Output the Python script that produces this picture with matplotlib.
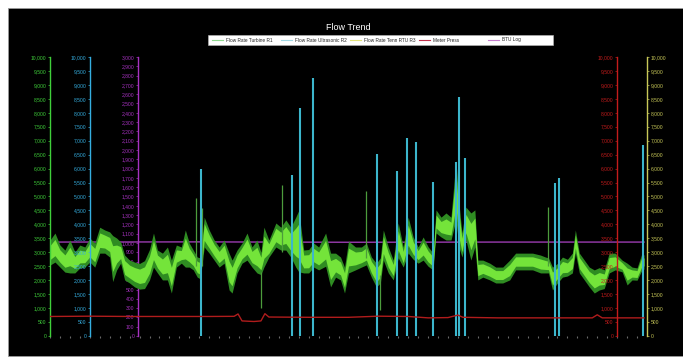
import numpy as np
import matplotlib
matplotlib.use("Agg")
import matplotlib.pyplot as plt
from matplotlib.patches import Rectangle
from matplotlib.lines import Line2D
from matplotlib.ticker import FuncFormatter

# ---------------- data ----------------
series_names = ["Flow Rate Turbine R1", "Flow Rate Ultrasonic R2",
                "Flow Rate Tenn RTU R3", "Meter Press", "BTU Log"]

# Turbine R1 flow: sample time (min) with upper / lower envelope of the noisy trace
turbine_t = [0, 5, 10, 15, 20, 25, 30, 35, 40, 45, 50, 55, 60, 63, 67, 71, 75, 80, 85, 90,
             95, 100, 104, 108, 113, 118, 122, 127, 132, 136, 140, 144, 148, 151, 155, 160,
             165, 170, 175, 180, 183, 188, 193, 198, 203, 208, 212, 215, 220, 227, 232, 237,
             242, 247, 250, 255, 260, 265, 270, 277, 282, 287, 292, 296, 300, 307, 313, 318,
             323, 328, 332, 335, 340, 345, 350, 355, 360, 365, 370, 375, 380, 385, 388, 393,
             398, 403, 408, 411, 414, 418, 423, 427, 430, 435, 442, 448, 455, 462, 468, 477,
             485, 493, 498, 501, 505, 510, 515, 520, 525, 528, 532, 537, 542, 547, 552, 557,
             562, 568, 575, 580, 585, 590, 595, 597]
turbine_hi = [3440, 3690, 3260, 3080, 3440, 3010, 3260, 3190, 3510, 3330, 3900, 3800, 3730,
              3600, 3510, 3370, 2900, 2720, 2650, 2600, 2700, 3100, 3690, 3080, 2970, 3190,
              2720, 3260, 3190, 3800, 3330, 3080, 2830, 2800, 4260, 3800, 3440, 3190, 3440,
              2970, 2720, 3080, 3330, 3690, 3190, 3440, 3000, 3900, 3440, 4050, 3900, 4160,
              3900, 4260, 4500, 3080, 3100, 3330, 3190, 3690, 2970, 2970, 2830, 2470, 3400,
              3190, 3190, 3330, 2830, 2610, 2800, 3800, 3190, 2720, 4050, 3190, 4260, 3550,
              3190, 3550, 3200, 2970, 4520, 4260, 4410, 4260, 6300, 4770, 3690, 4620, 4410,
              4520, 2720, 2720, 2610, 2470, 2470, 2720, 2970, 2970, 2970, 2900, 2830, 2800,
              2470, 2600, 2830, 2750, 2970, 3800, 2970, 2720, 2470, 2370, 2450, 2370, 2970,
              2970, 2720, 2610, 2470, 2440, 2970, 2900]
turbine_lo = [2540, 2650, 2470, 2290, 2260, 2260, 2440, 2470, 2650, 2470, 2970, 2970, 2830,
              1950, 2370, 2610, 2010, 1900, 1760, 1680, 1700, 2010, 2470, 2260, 2010, 2010,
              1540, 2470, 2610, 2470, 2470, 2370, 2110, 2050, 3190, 2970, 2720, 2470, 2610,
              1650, 1540, 2260, 2610, 2720, 2470, 2260, 2200, 2470, 2830, 3190, 3080, 3080,
              2830, 2470, 2300, 2260, 2260, 2470, 2370, 2500, 1760, 2110, 2010, 1540, 2260,
              2370, 2470, 2550, 2110, 1760, 1900, 2720, 2260, 2010, 2800, 2470, 2970, 2750,
              2610, 2720, 2500, 2370, 3690, 3550, 3440, 3440, 4160, 3190, 2830, 3440, 2720,
              3190, 2010, 2110, 2010, 1900, 1900, 2010, 2370, 2370, 2370, 2260, 2260, 2260,
              1650, 1900, 2110, 2150, 2260, 2970, 2260, 2010, 1760, 1540, 1650, 1700, 2260,
              2370, 2300, 1830, 2010, 2000, 2370, 2400]
# short transients of the turbine meter (start level -> extreme value)
turbine_spike_t = [147, 153, 233, 318, 501, 212, 332]
turbine_spike_from = [2500, 2500, 3000, 2800, 2500, 2300, 2200]
turbine_spike_v = [4950, 4600, 5400, 5200, 4620, 1000, 930]

# Ultrasonic R2 flow: isolated readings (spikes from zero)
ultra_t = [152, 243, 251, 264, 329, 349, 359, 368, 385, 408, 411, 417, 508, 512, 596]
ultra_v = [5985, 5770, 8170, 9250, 6520, 5910, 7100, 6960, 5520, 6240, 8560, 6380, 5480, 5660, 6850]

# Meter pressure
press_t = [0, 40, 80, 120, 160, 185, 189, 193, 205, 212, 216, 220, 260, 300, 330, 360, 380,
           400, 410, 415, 450, 500, 545, 550, 555, 597]
press_v = [700, 710, 700, 700, 700, 705, 790, 540, 520, 540, 800, 680, 670, 670, 710, 700,
           650, 660, 750, 670, 650, 650, 650, 760, 650, 650]

# BTU log (own scale 0 - 3,000)
btu_t = [0, 150, 300, 450, 597]
btu_v = [1010, 1012, 1008, 1010, 1010]

flow_ticks = np.arange(0, 10001, 500)
btu_ticks = np.arange(0, 3001, 100)

# ---------------- colours ----------------
C_GREEN_AX = "#3fcf3a"
C_CYAN_AX = "#35aee0"
C_MAG_AX = "#a632c0"
C_RED_AX = "#c41c1c"
C_YEL_AX = "#c8c858"
C_BAND_CORE = "#74e43a"
C_BAND_FRINGE = "#2f8c22"
C_SPIKE_G = "#4c9c3c"
C_CYAN = "#3cb6cc"
C_PRESS = "#b01c1c"
C_BTU = "#9a3cb0"

W, H = 683, 364
fig = plt.figure(figsize=(W / 100, H / 100), dpi=100, facecolor="white")
fig.patches.append(Rectangle((8 / W, 1 - 356 / H), 1 - 8 / W, (356 - 8) / H,
                             transform=fig.transFigure, facecolor="black",
                             edgecolor="#9a9a9a", lw=0.6, zorder=-10))

rect = [50 / W, 28 / H, 597 / W, 279 / H]
ax = fig.add_axes(rect)
ax.patch.set_visible(False)

fmt = FuncFormatter(lambda v, _: f"{int(round(v)):,}")


def style_axis(a, color, side, pos, lim, ticks):
    a.set_ylim(*lim)
    a.set_yticks(ticks)
    a.yaxis.set_major_formatter(fmt)
    for s in a.spines.values():
        s.set_visible(False)
    sp = a.spines[side]
    sp.set_visible(True)
    sp.set_color(color)
    sp.set_linewidth(1.0)
    sp.set_position(("axes", pos))
    a.yaxis.set_ticks_position(side)
    a.tick_params(axis="y", colors=color, labelsize=3.6, length=1.5, width=0.5, pad=1.0)
    for lab in a.get_yticklabels():
        lab.set_fontfamily("Liberation Sans")


# main axis: turbine flow
style_axis(ax, C_GREEN_AX, "left", 0.0, (0, 10000), flow_ticks)
ax.set_xlim(0, 600)
ax.set_xticks(np.arange(0, 600, 10))
ax.tick_params(axis="x", colors="#6a6a6a", length=1.6, width=0.8, labelbottom=False)

ax_btu = ax.twinx()
style_axis(ax_btu, C_MAG_AX, "left", 0.147, (0, 3000), btu_ticks)
ax_btu.set_zorder(ax.get_zorder() - 1)

ax_ultra = ax.twinx()
style_axis(ax_ultra, C_CYAN_AX, "left", 0.067, (0, 10000), flow_ticks)

ax_press = ax.twinx()
style_axis(ax_press, C_RED_AX, "left", 0.950, (0, 10000), flow_ticks)

ax_rtu = ax.twinx()
style_axis(ax_rtu, C_YEL_AX, "right", 1.0, (0, 10000), flow_ticks)

# series
ax_btu.plot(btu_t, btu_v, color=C_BTU, lw=1.0)
ax.vlines(turbine_spike_t, turbine_spike_from, turbine_spike_v, color=C_SPIKE_G, lw=0.9)

hi = np.asarray(turbine_hi, float)
lo = np.asarray(turbine_lo, float)
span = hi - lo
# dark fringe over the full scatter of readings, bright core in the middle
ax.fill_between(turbine_t, lo, hi, color=C_BAND_FRINGE, lw=0)
ax.fill_between(turbine_t, lo + 0.22 * span, hi - 0.22 * span, color=C_BAND_CORE, lw=0)

ax_press.plot(press_t, press_v, color=C_PRESS, lw=1.0)
ax_ultra.vlines(ultra_t, 0, ultra_v, color=C_CYAN, lw=1.5)

# title
fig.text(348 / W, 1 - 28 / H, "Flow Trend", color="white", ha="center", va="center",
         fontsize=6.5, family="Liberation Sans")

# legend strip
fig.patches.append(Rectangle((208 / W, 1 - 45 / H), (553 - 208) / W, 10 / H,
                             transform=fig.transFigure, facecolor="white",
                             edgecolor="#bbbbbb", lw=0.4, zorder=5))
legend_colors = ["#8fd88f", "#9fd6e2", "#e2e27a", "#c0304a", "#c47ccc"]
for i, (name, col) in enumerate(zip(series_names, legend_colors)):
    x0 = 212 + i * 69
    fig.lines.append(Line2D([x0 / W, (x0 + 11) / W], [1 - 40 / H, 1 - 40 / H],
                            transform=fig.transFigure, color=col, lw=0.8, zorder=6))
    fig.text((x0 + 14) / W, 1 - 40 / H, name, color="#222222", ha="left", va="center",
             fontsize=3.4, family="Liberation Sans", zorder=6)

fig.savefig("out.png", dpi=100, facecolor=fig.get_facecolor())
